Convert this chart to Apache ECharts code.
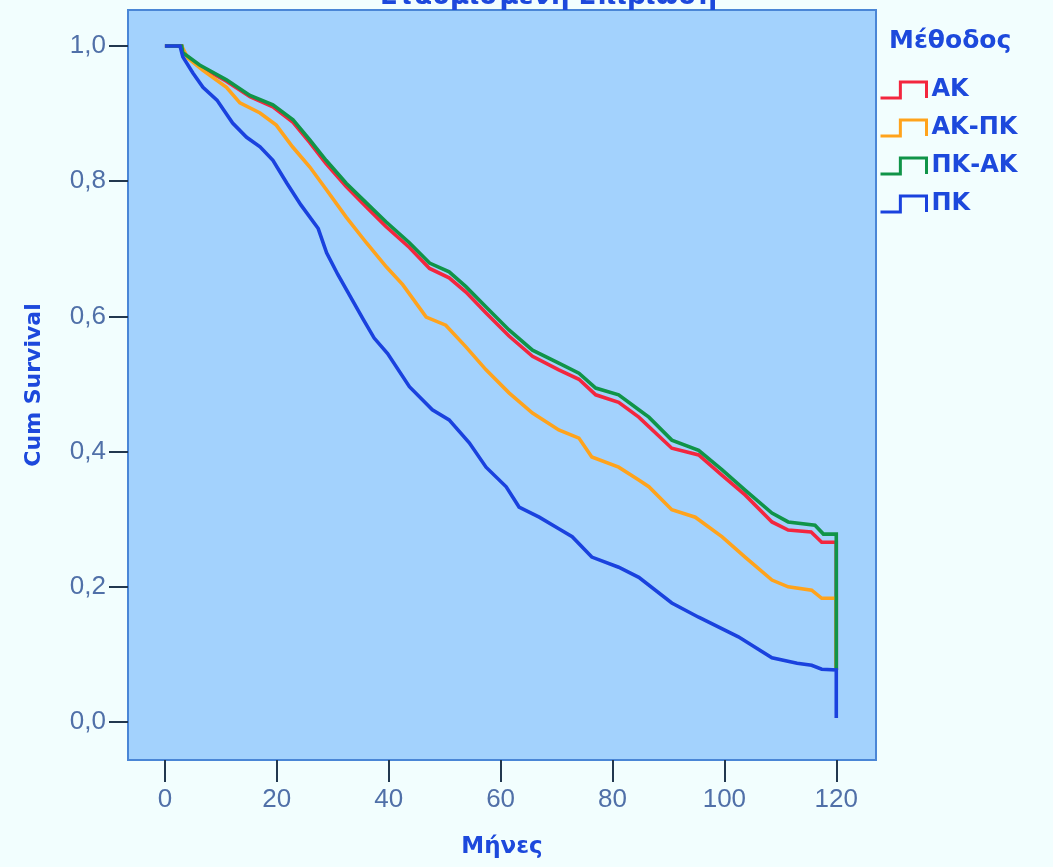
<!DOCTYPE html>
<html>
<head>
<meta charset="utf-8">
<script src="https://cdn.jsdelivr.net/npm/echarts@6/dist/echarts.min.js"></script>
<style>
  html, body { margin: 0; padding: 0; background: #f2fefe; }
  #chart { width: 1053px; height: 867px; }
</style>
</head>
<body>
<div id="chart"></div>
<script>
// ---- data (months, cumulative survival) ----
const seriesNames = ['ΑΚ', 'ΑΚ-ΠΚ', 'ΠΚ-ΑΚ', 'ΠΚ'];
const xTicks = [0, 20, 40, 60, 80, 100, 120];
const yTicks = [0, 0.2, 0.4, 0.6, 0.8, 1.0];

const akMonths = [0, 3.0, 3.2, 6.2, 11, 15.2, 19.3, 22.9, 25.9, 28.8, 32.4, 36, 39.5, 43.7, 47.3, 50.8, 53.8, 57.4, 61.5, 65.7, 70.4, 74, 77, 81.1, 84.7, 90.6, 95.4, 99.6, 103.7, 108.5, 111.4, 115.5, 117.4, 120, 120];
const akSurv   = [1.0, 1.0, 0.99, 0.970, 0.948, 0.925, 0.910, 0.887, 0.857, 0.826, 0.792, 0.762, 0.733, 0.702, 0.671, 0.657, 0.636, 0.605, 0.571, 0.541, 0.521, 0.507, 0.484, 0.473, 0.451, 0.405, 0.395, 0.365, 0.336, 0.296, 0.284, 0.281, 0.266, 0.266, 0.077];

const akpkMonths = [0, 3.0, 4.1, 6.8, 11, 13.4, 17, 19.9, 22.8, 25.9, 28.9, 32.4, 36, 39.6, 42.5, 46.7, 50.2, 53.8, 57.4, 61.5, 65.7, 70.4, 74, 76.3, 81.1, 84.7, 86.5, 90.6, 94.8, 99.6, 103.7, 108.5, 111.4, 115.6, 117.4, 120, 120];
const akpkSurv   = [1.0, 1.0, 0.982, 0.964, 0.939, 0.916, 0.901, 0.883, 0.851, 0.821, 0.787, 0.747, 0.709, 0.673, 0.647, 0.599, 0.587, 0.555, 0.521, 0.487, 0.457, 0.432, 0.420, 0.392, 0.377, 0.358, 0.348, 0.314, 0.303, 0.274, 0.244, 0.210, 0.200, 0.195, 0.183, 0.183, 0.077];

const pkakMonths = [0, 3.0, 3.2, 6.2, 11, 15.2, 19.3, 22.9, 25.9, 28.8, 32.4, 36, 39.5, 43.7, 47.3, 50.8, 53.8, 57.4, 61.5, 65.7, 70.4, 74, 77, 81.1, 84.7, 86.5, 90.6, 95.4, 99.6, 103.7, 108.5, 111.4, 116.2, 117.7, 120, 120];
const pkakSurv   = [1.0, 1.0, 0.99, 0.972, 0.950, 0.927, 0.913, 0.891, 0.861, 0.831, 0.797, 0.768, 0.740, 0.709, 0.679, 0.666, 0.644, 0.614, 0.580, 0.550, 0.531, 0.516, 0.494, 0.484, 0.462, 0.451, 0.417, 0.402, 0.373, 0.343, 0.309, 0.296, 0.291, 0.278, 0.278, 0.077];

const pkMonths = [0, 2.7, 3.2, 5, 6.8, 9.3, 12.1, 14.6, 17, 19.3, 21.8, 24.3, 27.4, 28.9, 30.9, 33.5, 35.5, 37.4, 39.8, 43.7, 47.8, 50.8, 54.4, 57.4, 61, 63.3, 66.9, 70.4, 72.8, 76.3, 81.1, 84.7, 90.6, 95.4, 102.5, 108.5, 113, 115.6, 117.4, 120, 120];
const pkSurv   = [1.0, 1.0, 0.984, 0.960, 0.939, 0.920, 0.886, 0.865, 0.851, 0.831, 0.797, 0.765, 0.730, 0.694, 0.662, 0.624, 0.595, 0.568, 0.545, 0.496, 0.462, 0.447, 0.413, 0.377, 0.348, 0.318, 0.303, 0.286, 0.274, 0.244, 0.229, 0.214, 0.176, 0.155, 0.126, 0.095, 0.087, 0.084, 0.078, 0.077, 0.006];

const colors = ['#f3263e', '#ffa31c', '#109448', '#1a42de'];
const textBlue = '#1d49dc';
const tickBlue = '#5070a8';

function pairs(xs, ys) { return xs.map((x, i) => [x, ys[i]]); }
const allData = [
  pairs(akMonths, akSurv),
  pairs(akpkMonths, akpkSurv),
  pairs(pkakMonths, pkakSurv),
  pairs(pkMonths, pkSurv)
];

const chart = echarts.init(document.getElementById('chart'), null, { renderer: 'canvas' });

const stepIcon = 'path://M0,16 L19,16 L19,1 L44,1 L44,16';

chart.setOption({
  backgroundColor: '#f2fefe',
  animation: false,
  title: [
    {
      text: 'Σταθμισμένη Επιβίωση',
      left: 375, top: -21,
      textStyle: { fontFamily: 'DejaVu Sans', fontWeight: 'bold', fontSize: 26, color: textBlue }
    },
    {
      text: 'Μέθοδος',
      left: 884, top: 24,
      textStyle: { fontFamily: 'DejaVu Sans', fontWeight: 'bold', fontSize: 25, color: textBlue }
    }
  ],
  legend: {
    orient: 'vertical',
    left: 874, top: 72,
    itemWidth: 46, itemHeight: 16,
    itemGap: 12,
    data: seriesNames.map((n, i) => ({
      name: n,
      icon: stepIcon,
      itemStyle: { color: 'transparent', borderColor: colors[i], borderWidth: 3 }
    })),
    textStyle: { fontFamily: 'DejaVu Sans', fontWeight: 'bold', fontSize: 24, color: textBlue, lineHeight: 26 },
    symbolKeepAspect: false
  },
  grid: {
    left: 128, top: 10, right: 177, bottom: 107,
    show: true,
    backgroundColor: '#a3d2fd',
    borderColor: '#4a86d6',
    borderWidth: 2
  },
  xAxis: {
    type: 'value',
    min: -6.6, max: 127.1,
    name: 'Μήνες',
    nameLocation: 'middle',
    nameGap: 76,
    nameTextStyle: { fontFamily: 'DejaVu Sans', fontWeight: 'bold', fontSize: 23, color: textBlue },
    axisLine: { show: false, onZero: false },
    splitLine: { show: false },
    axisTick: { show: true, customValues: xTicks, length: 22, lineStyle: { color: '#22384f', width: 2 } },
    axisLabel: {
      customValues: xTicks, margin: 27,
      fontFamily: 'Liberation Sans', fontSize: 26, color: tickBlue,
      formatter: v => String(v)
    }
  },
  yAxis: {
    type: 'value',
    min: -0.0562, max: 1.0533,
    name: 'Cum Survival',
    nameLocation: 'middle',
    nameGap: 83,
    nameRotate: 90,
    nameTextStyle: { fontFamily: 'DejaVu Sans', fontWeight: 'bold', fontSize: 22, color: textBlue },
    axisLine: { show: false, onZero: false },
    splitLine: { show: false },
    axisTick: { show: true, customValues: yTicks, length: 19, lineStyle: { color: '#22384f', width: 2 } },
    axisLabel: {
      customValues: yTicks, margin: 22,
      fontFamily: 'Liberation Sans', fontSize: 26, color: tickBlue,
      formatter: v => v.toFixed(1).replace('.', ',')
    }
  },
  series: seriesNames.map((n, i) => ({
    name: n,
    type: 'line',
    data: allData[i],
    showSymbol: false,
    symbol: 'none',
    lineStyle: { color: colors[i], width: 3.6, join: 'miter' },
    itemStyle: { color: colors[i] },
    z: 2 + i
  }))
});
</script>
</body>
</html>
